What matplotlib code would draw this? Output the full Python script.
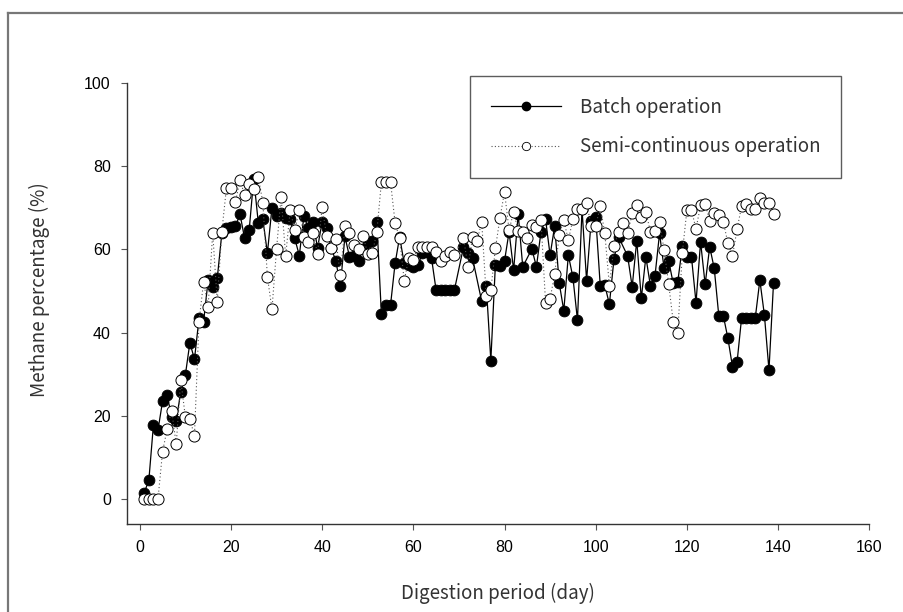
import matplotlib.pyplot as plt
from matplotlib.lines import Line2D

# methane content of the biogas, batch reactor
batch_day = [1, 2, 3, 4, 5, 6, 7, 8, 9, 10, 11, 12, 13, 14, 15, 16, 17, 18, 19, 20,
             21, 22, 23, 24, 25, 26, 27, 28, 29, 30, 31, 32, 33, 34, 35, 36, 37, 38, 39, 40,
             41, 42, 43, 44, 45, 46, 47, 48, 49, 50, 51, 52, 53, 54, 55, 56, 57, 58, 59, 60,
             61, 62, 63, 64, 65, 66, 67, 68, 69, 71, 72, 73, 75, 76, 77, 78, 79, 80,
             81, 82, 83, 84, 86, 87, 88, 89, 90, 91, 92, 93, 94, 95, 96, 97, 98, 99, 100,
             101, 102, 103, 104, 105, 107, 108, 109, 110, 111, 112, 113, 114, 115, 116, 117,
             118, 119, 120, 121, 122, 123, 124, 125, 126, 127, 128, 129, 130, 131, 132, 133,
             134, 135, 136, 137, 138, 139]
batch_ch4 = [1.6, 4.6, 17.8, 16.6, 23.5, 25.0, 19.8, 18.9, 25.8, 29.8, 37.6, 33.6, 43.4, 42.6,
             52.6, 51.0, 53.0, 63.8, 65.0, 65.4, 65.6, 68.4, 62.6, 64.6, 77.0, 66.4, 67.2, 59.1,
             70.0, 67.9, 68.6, 67.5, 67.3, 62.6, 58.5, 68.0, 65.0, 66.6, 60.3, 66.6, 65.0, 60.2,
             57.3, 51.2, 63.1, 58.2, 58.4, 57.3, 60.0, 61.8, 62.1, 66.6, 44.4, 46.6, 46.6, 56.6,
             63.0, 56.6, 56.2, 55.8, 56.2, 59.0, 59.4, 57.8, 50.2, 50.2, 50.2, 50.2, 50.2,
             60.5, 59.2, 57.8, 47.5, 51.3, 33.3, 56.3, 56.0, 57.2, 64.2, 55.0, 68.5, 55.8,
             60.1, 55.8, 64.2, 67.2, 58.6, 65.6, 51.9, 45.3, 58.6, 53.3, 43.0, 69.6, 52.5,
             66.9, 67.8, 51.2, 51.4, 46.8, 57.6, 63.0, 58.4, 51.0, 62.1, 48.2, 58.2, 51.2,
             53.6, 63.8, 55.4, 57.3, 51.8, 52.2, 60.7, 58.2, 58.2, 47.2, 61.8, 51.6, 60.6,
             55.4, 44.0, 44.0, 38.6, 31.8, 32.9, 43.6, 43.6, 43.6, 43.6, 52.6, 44.2, 31.0, 52.0]

# methane content, semi-continuous reactor
semi_day = [1, 2, 3, 4, 5, 6, 7, 8, 9, 10, 11, 12, 13, 14, 15, 16, 17, 18, 19, 20,
            21, 22, 23, 24, 25, 26, 27, 28, 29, 30, 31, 32, 33, 34, 35, 36, 37, 38, 39, 40,
            41, 42, 43, 44, 45, 46, 47, 48, 49, 50, 51, 52, 53, 54, 55, 56, 57, 58, 59, 60,
            61, 62, 63, 64, 65, 66, 67, 68, 69, 71, 72, 73, 74, 75, 76, 77, 78, 79, 80,
            81, 82, 83, 84, 85, 86, 87, 88, 89, 90, 91, 92, 93, 94, 95, 96, 97, 98, 99, 100,
            101, 102, 103, 104, 105, 106, 107, 108, 109, 110, 111, 112, 113, 114, 115, 116,
            117, 118, 119, 120, 121, 122, 123, 124, 125, 126, 127, 128, 129, 130, 131, 132,
            133, 134, 135, 136, 137, 138, 139]
semi_ch4 = [0.0, 0.0, 0.0, 0.0, 11.4, 16.8, 21.3, 13.2, 28.6, 19.8, 19.2, 15.3, 42.6, 52.2,
            46.2, 64.0, 47.4, 64.2, 74.6, 74.6, 71.4, 76.6, 73.0, 75.8, 74.4, 77.4, 71.2, 53.4,
            45.6, 60.0, 72.6, 58.4, 69.4, 64.6, 69.4, 63.0, 61.8, 63.8, 58.9, 70.2, 63.2, 60.2,
            62.5, 53.8, 65.5, 63.8, 61.0, 60.0, 63.2, 58.9, 59.0, 64.2, 76.2, 76.2, 76.2, 66.4,
            62.6, 52.5, 57.8, 57.4, 60.5, 60.6, 60.6, 60.6, 59.4, 57.3, 58.4, 59.4, 58.6,
            62.8, 55.7, 63.0, 62.1, 66.6, 48.8, 50.2, 60.2, 67.5, 73.8, 64.6, 69.0, 64.4,
            64.2, 62.7, 65.8, 65.4, 67.0, 47.2, 48.1, 54.1, 63.4, 67.0, 62.2, 67.2, 69.6,
            69.6, 71.2, 65.6, 65.6, 70.3, 63.8, 51.3, 60.7, 64.2, 66.3, 63.8, 68.6, 70.6,
            67.8, 69.0, 64.2, 64.3, 66.6, 59.8, 51.7, 42.6, 40.0, 59.2, 69.4, 69.4, 64.9,
            70.6, 70.9, 66.9, 68.6, 68.2, 66.6, 61.4, 58.4, 64.8, 70.4, 70.9, 69.6, 69.6,
            72.2, 71.2, 71.2, 68.5]

x_ticks = [0, 20, 40, 60, 80, 100, 120, 140, 160]
y_ticks = [0, 20, 40, 60, 80, 100]

label_font = ['Noto Sans CJK KR', 'DejaVu Sans']
tick_font = 'Liberation Sans'

fig = plt.figure(figsize=(9.04, 6.12), dpi=100)
ax = fig.add_axes([0.1402, 0.1438, 0.8214, 0.7211])

ax.plot(batch_day, batch_ch4, color='black', lw=0.9, marker='o', ms=7.8,
        mfc='black', mec='black', mew=0.6, zorder=3)
ax.plot(semi_day, semi_ch4, color='#555555', lw=0.8, ls=(0, (1, 2.2)), marker='o',
        ms=8.0, mfc='white', mec='black', mew=0.7, zorder=4)

ax.set_xlim(-2.85, 160)
ax.set_ylim(-5.93, 100)
ax.set_xticks(x_ticks)
ax.set_yticks(y_ticks)
ax.set_xticklabels([str(t) for t in x_ticks], fontfamily=tick_font, fontsize=11.5)
ax.set_yticklabels([str(t) for t in y_ticks], fontfamily=tick_font, fontsize=11.5)
ax.tick_params(direction='out', length=4.5, width=0.8, color='#555555', pad=7)

for side in ['top', 'right']:
    ax.spines[side].set_visible(False)
for side in ['left', 'bottom']:
    ax.spines[side].set_color('#333333')
    ax.spines[side].set_linewidth(1.0)
ax.spines['left'].set_bounds(-5.93, 100)
ax.spines['bottom'].set_bounds(-2.85, 160)

ax.set_xlabel('Digestion period (day)', fontfamily=label_font, fontsize=13.5,
              color='#333333', labelpad=20)
ax.set_ylabel('Methane percentage (%)', fontfamily=label_font, fontsize=13.5,
              color='#333333')
ax.yaxis.set_label_coords(-0.104, 0.53)

handles = [
    Line2D([], [], color='black', lw=0.9, marker='o', ms=6, mfc='black', mec='black'),
    Line2D([], [], color='#555555', lw=0.8, ls=(0, (1, 2)), marker='o', ms=6,
           mfc='white', mec='black', mew=0.6),
]
leg = ax.legend(handles, ['Batch operation', 'Semi-continuous operation'],
                loc='upper left', bbox_to_anchor=(0.4623, 1.0152), borderaxespad=0,
                frameon=True, fancybox=False, edgecolor='#333333', handlelength=3.75,
                handletextpad=1.0, borderpad=1.1, labelspacing=1.0,
                prop={'family': label_font, 'size': 13.5})
leg.get_frame().set_linewidth(1.0)
for txt in leg.get_texts():
    txt.set_color('#333333')

# page frame around the figure
fig.add_artist(Line2D([0.0088, 0.0088], [-0.01, 0.9788], transform=fig.transFigure,
                      color='#777777', lw=1.6))
fig.add_artist(Line2D([0.0088, 1.01], [0.9788, 0.9788], transform=fig.transFigure,
                      color='#777777', lw=1.6))

fig.savefig('out.png', dpi=100, facecolor='white')
